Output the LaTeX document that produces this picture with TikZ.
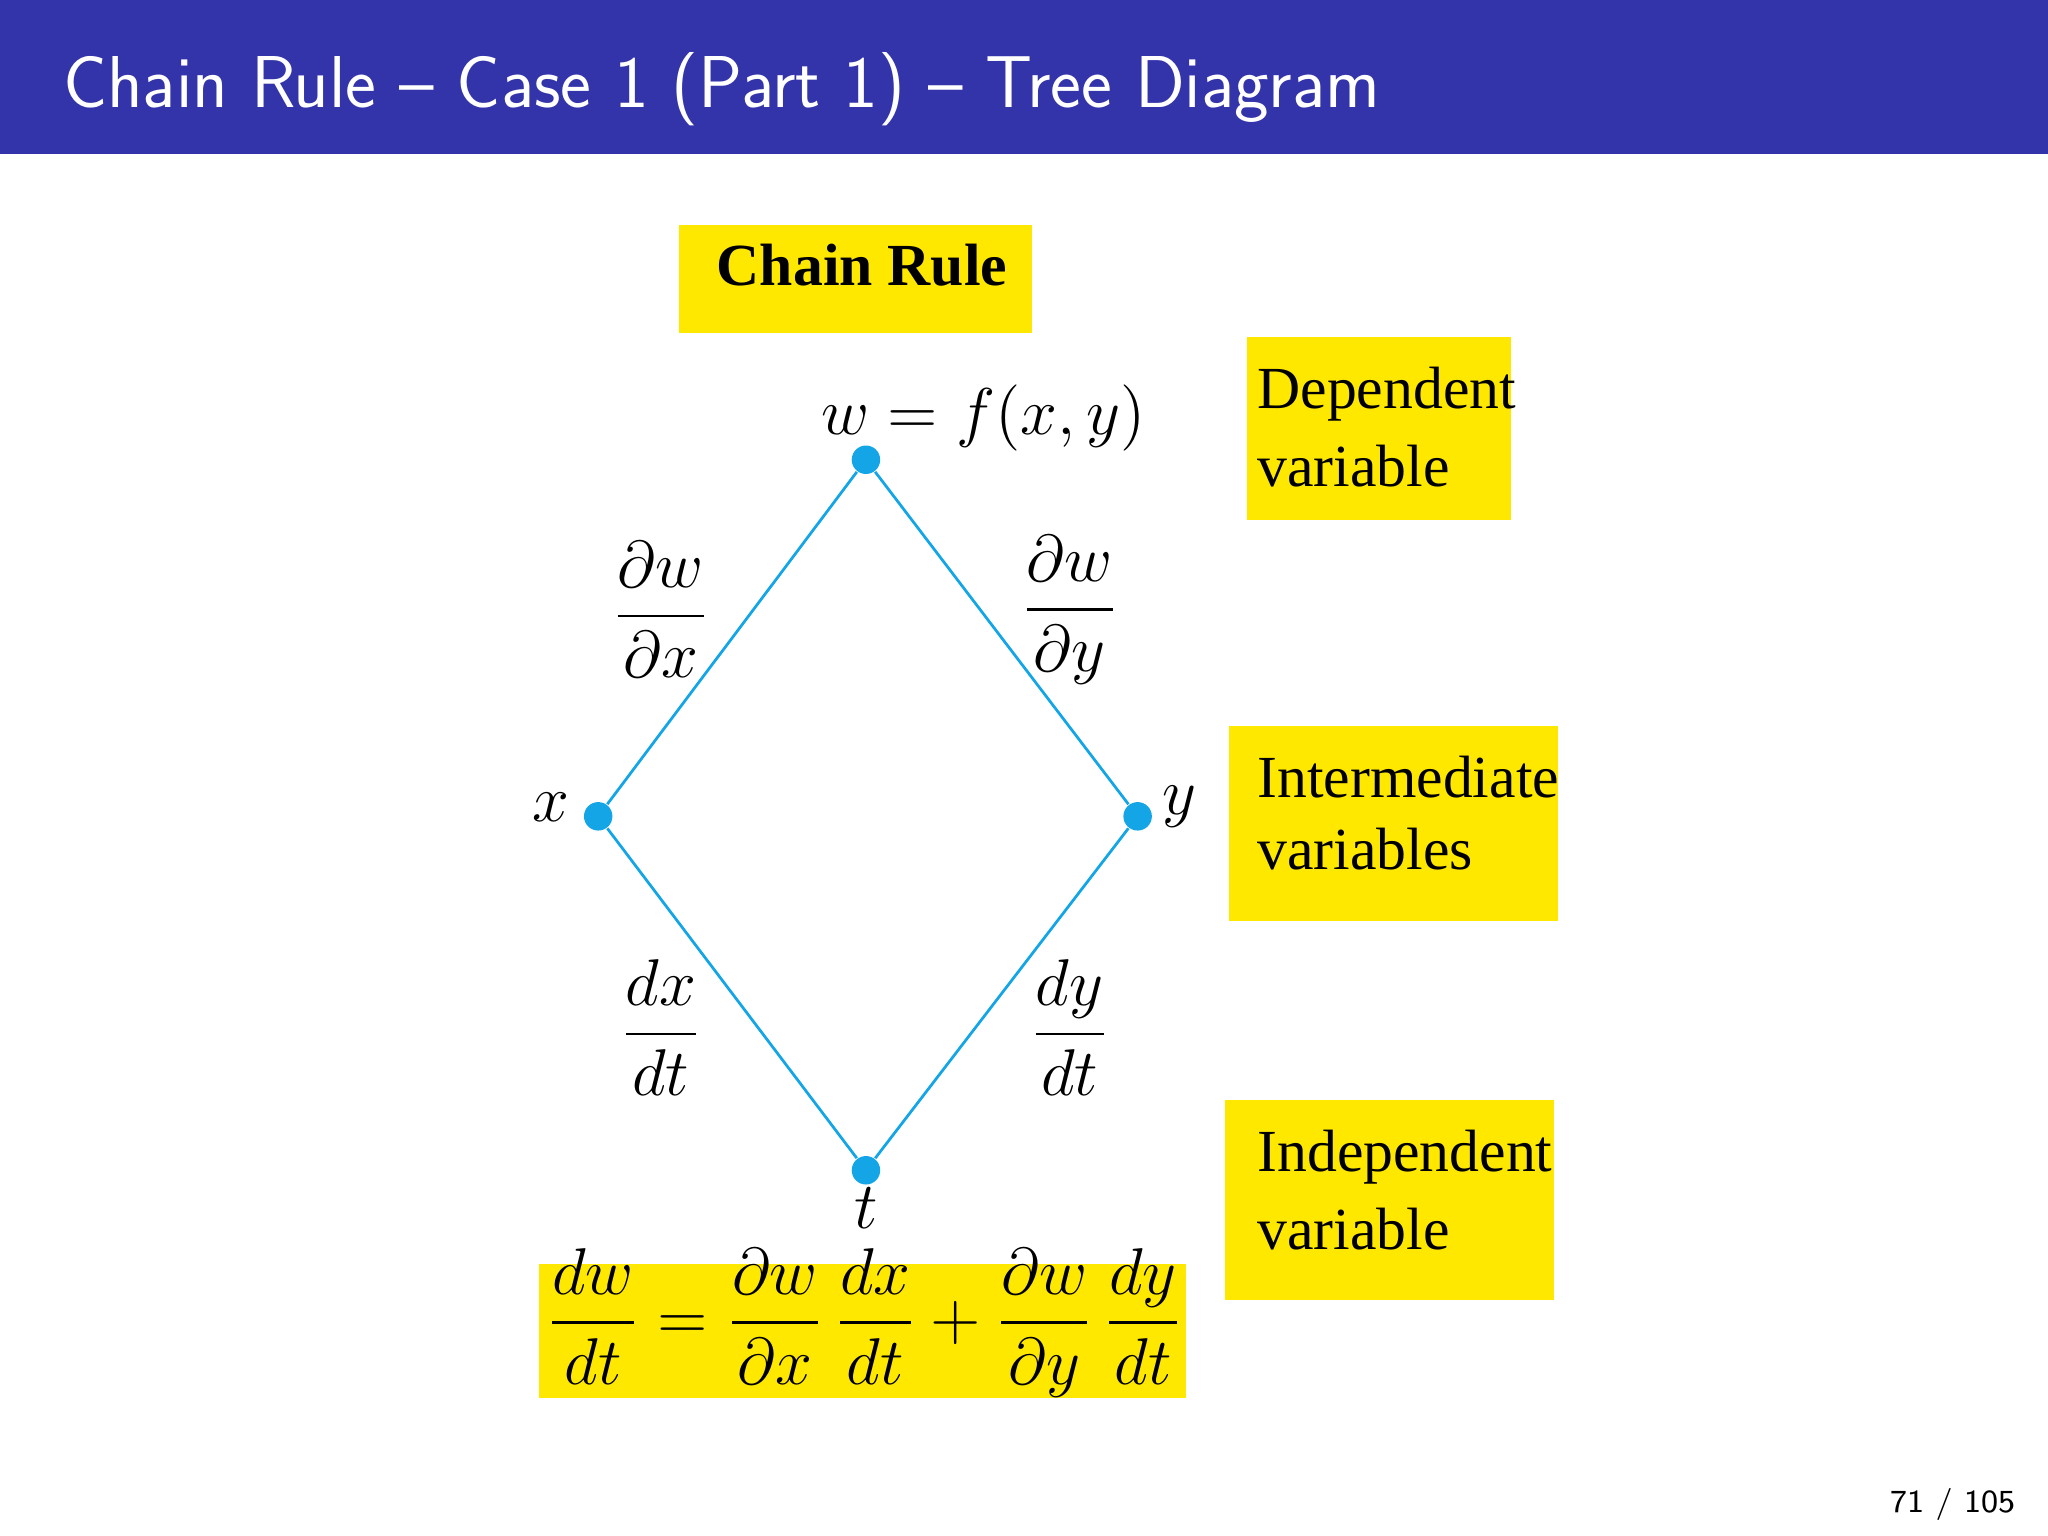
\documentclass[tikz,border=0pt]{standalone}
\usepackage{fontspec}
\usepackage{amsmath}
\newfontfamily\tms{Liberation Serif}
\definecolor{bar}{RGB}{51,51,170}
\definecolor{dotc}{RGB}{20,165,230}
\definecolor{hl}{RGB}{255,232,0}
\tikzset{dot/.style={circle,fill=dotc,inner sep=0pt,minimum size=6.2pt},
edge/.style={dotc,line width=0.6pt},
lab/.style={font=\fontsize{15}{18}\selectfont},
txt/.style={font=\tms\fontsize{13}{16}\selectfont,anchor=west,inner sep=0pt},
hlbox/.style={fill=hl,draw=none}}
\begin{document}
\begin{tikzpicture}[x=0.01cm,y=-0.01cm]
\useasboundingbox (0,0) rectangle (1568,1176);
\fill[bar] (0,0) rectangle (1568,118);
\node[anchor=west,text=white,font=\sffamily\fontsize{16}{19}\selectfont] (title) at (36,68) {Chain Rule -- Case 1 (Part 1) -- Tree Diagram};
\fill[hlbox] (520,172) rectangle (790,255);
\fill[hlbox] (955,258) rectangle (1157,398);
\fill[hlbox] (941,556) rectangle (1193,705);
\fill[hlbox] (938,842) rectangle (1190,995);
\fill[hlbox] (413,968) rectangle (908,1070);
\node[font=\tms\bfseries\fontsize{13}{16}\selectfont] (cr) at (660,203) {Chain Rule};
\node[dot] (w) at (663,352) {};
\node[dot] (x) at (458,625) {};
\node[dot] (y) at (871,625) {};
\node[dot] (t) at (663,896) {};
\draw[edge] (w)--(x) (w)--(y) (x)--(t) (y)--(t);
\node[lab] (wl) at (753,320) {$w=f(x,y)$};
\node[lab] (xl) at (422,618) {$x$};
\node[lab] (yl) at (903,618) {$y$};
\node[lab] (tl) at (663,925) {$t$};
\node[lab] (f1) at (506,467) {$\dfrac{\partial w}{\partial x}$};
\node[lab] (f2) at (819,467) {$\dfrac{\partial w}{\partial y}$};
\node[lab] (f3) at (506,787) {$\dfrac{dx}{dt}$};
\node[lab] (f4) at (819,787) {$\dfrac{dy}{dt}$};
\node[lab] (eq) at (662,1013) {$\dfrac{dw}{dt}=\dfrac{\partial w}{\partial x}\,\dfrac{dx}{dt}+\dfrac{\partial w}{\partial y}\,\dfrac{dy}{dt}$};
\node[txt] (d1) at (962,302) {Dependent};
\node[txt] (d2) at (962,357) {variable};
\node[txt] (i1) at (962,595) {Intermediate};
\node[txt] (i2) at (962,650) {variables};
\node[txt] (n1) at (962,886) {Independent};
\node[txt] (n2) at (962,941) {variable};
\node[font=\sffamily\fontsize{7}{8}\selectfont] (pg) at (1495,1152) {71 / 105};
\end{tikzpicture}
\end{document}
